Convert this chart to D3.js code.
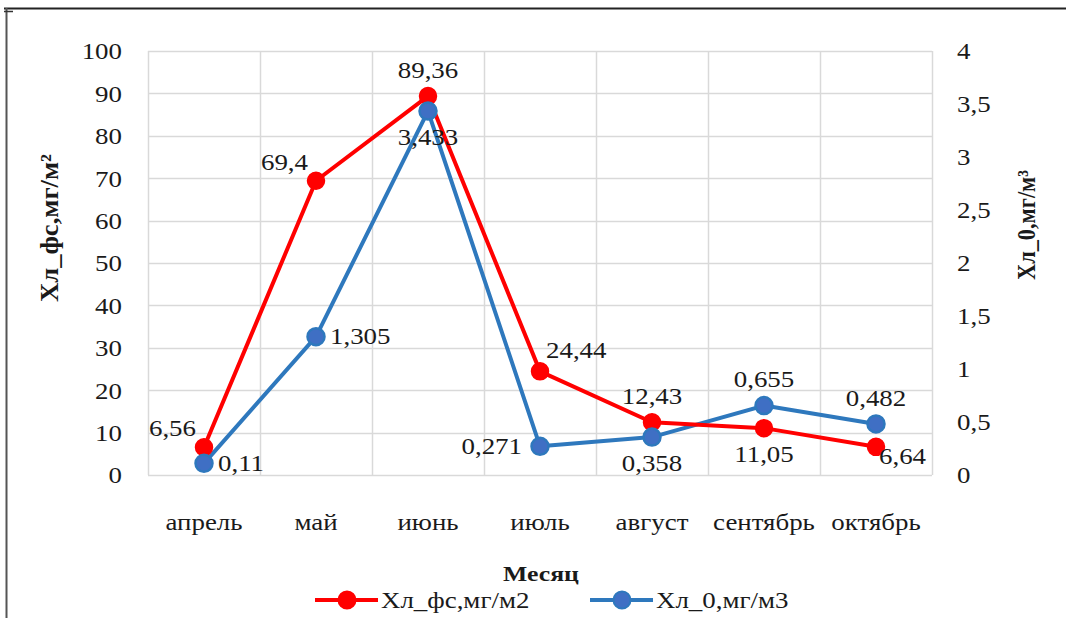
<!DOCTYPE html>
<html>
<head>
<meta charset="utf-8">
<script src="https://cdn.jsdelivr.net/npm/d3@7"></script>
<style>
  html, body { margin: 0; padding: 0; background: #fff; }
  svg { display: block; }
</style>
</head>
<body>
<svg id="chart" width="1066" height="618"></svg>
<script>
// Monthly chlorophyll values
const months = ["апрель", "май", "июнь", "июль", "август", "сентябрь", "октябрь"];
const chlPhs = [6.56, 69.4, 89.36, 24.44, 12.43, 11.05, 6.64];       // Хл_фс, мг/м2
const chl0 = [0.11, 1.305, 3.433, 0.271, 0.358, 0.655, 0.482];       // Хл_0, мг/м3
const leftTicks = [0, 10, 20, 30, 40, 50, 60, 70, 80, 90, 100];
const rightTicks = [0, 0.5, 1, 1.5, 2, 2.5, 3, 3.5, 4];
// where each data label sits relative to its marker
const chlPhsLabelPos = ["aboveLeft", "aboveLeft", "above", "aboveRight", "above", "below", "belowRight"];
const chl0LabelPos = ["right", "right", "below", "left", "below", "above", "above"];

const FONT = "'Liberation Serif', 'Times New Roman', Times, serif";
const FS = 23;      // base font size
const SX = 1.17;    // horizontal stretch of lettering
const INK = "#1a1a1a";
const RED = "#ff0000";
const BLUE_LINE = "#2e78bd";
const BLUE_FILL = "#3f6fc4";

const svg = d3.select("#chart");
const fmt = v => String(v).replace(".", ",");

const margin = { left: 148, right: 1066 - 932, top: 51, bottom: 618 - 475 };
const W = 1066 - margin.left - margin.right;
const H = 618 - margin.top - margin.bottom;

const x = d3.scaleBand().domain(months).range([margin.left, margin.left + W]);
const yL = d3.scaleLinear().domain([0, 100]).range([margin.top + H, margin.top]);
const yR = d3.scaleLinear().domain([0, 4]).range([margin.top + H, margin.top]);
const cx = m => x(m) + x.bandwidth() / 2;

function styleText(sel, size, bold) {
  sel.attr("font-family", FONT)
    .attr("font-size", size + "px")
    .attr("font-weight", bold ? "bold" : "normal")
    .attr("fill", INK);
  return sel;
}

// page frame
svg.append("line").attr("x1", 4).attr("x2", 1066).attr("y1", 8.5).attr("y2", 8.5)
  .attr("stroke", "#222").attr("stroke-width", 2);
svg.append("line").attr("x1", 6.5).attr("x2", 6.5).attr("y1", 8).attr("y2", 618)
  .attr("stroke", "#555").attr("stroke-width", 2);
svg.append("line").attr("x1", 4).attr("x2", 13).attr("y1", 11.5).attr("y2", 11.5)
  .attr("stroke", "#333").attr("stroke-width", 1.5);

// stretched horizontal text helper
function htext(g, tx, ty, str, anchor, opts = {}) {
  return styleText(g.append("text"), opts.size || FS, opts.bold)
    .attr("transform", `translate(${tx},${ty}) scale(${SX},1)`)
    .attr("text-anchor", anchor)
    .attr("dominant-baseline", "central")
    .text(str);
}

// horizontal gridlines
const grid = svg.append("g");
grid.selectAll("line.h").data(leftTicks).join("line")
  .attr("x1", margin.left).attr("x2", margin.left + W)
  .attr("y1", d => Math.round(yL(d)) + 0.5).attr("y2", d => Math.round(yL(d)) + 0.5)
  .attr("stroke", "#d9d9d9").attr("stroke-width", 1.5);
// vertical gridlines at category boundaries
const bounds = months.map(m => x(m)).concat([margin.left + W]);
grid.selectAll("line.v").data(bounds).join("line")
  .attr("x1", d => Math.round(d) + 0.5).attr("x2", d => Math.round(d) + 0.5)
  .attr("y1", margin.top).attr("y2", margin.top + H)
  .attr("stroke", "#d9d9d9").attr("stroke-width", 1.5);

function tidyAxis(g, anchor) {
  g.attr("font-family", null).attr("font-size", null);
  g.select(".domain").remove();
  styleText(g.selectAll(".tick text"), FS, false)
    .attr("x", 0).attr("y", 0).attr("dy", null)
    .attr("dominant-baseline", "central")
    .attr("text-anchor", anchor)
    .attr("transform", `scale(${SX},1)`);
}

// left axis
const axL = svg.append("g")
  .attr("transform", `translate(${margin.left - 26},0)`)
  .call(d3.axisLeft(yL).tickValues(leftTicks).tickSize(0).tickPadding(0).tickFormat(fmt));
tidyAxis(axL, "end");

// right axis
const axR = svg.append("g")
  .attr("transform", `translate(${margin.left + W + 25},0)`)
  .call(d3.axisRight(yR).tickValues(rightTicks).tickSize(0).tickPadding(0).tickFormat(fmt));
tidyAxis(axR, "start");

// category axis
const axB = svg.append("g")
  .attr("transform", `translate(0,${margin.top + H + 47})`)
  .call(d3.axisBottom(x).tickSize(0).tickPadding(0));
tidyAxis(axB, "middle");

// axis titles
styleText(svg.append("text"), 22, true)
  .attr("transform", `translate(49,228) rotate(-90) scale(1,${SX})`)
  .attr("text-anchor", "middle").attr("dominant-baseline", "central")
  .attr("textLength", 148).attr("lengthAdjust", "spacingAndGlyphs")
  .text("Хл_фс,мг/м²");
styleText(svg.append("text"), 22, true)
  .attr("transform", `translate(1026,225) rotate(-90) scale(1,${SX})`)
  .attr("text-anchor", "middle").attr("dominant-baseline", "central")
  .attr("textLength", 110).attr("lengthAdjust", "spacingAndGlyphs")
  .text("Хл_0,мг/м³");
htext(svg, 541, 574, "Месяц", "middle", { bold: true, size: 22 });

// series
const lineL = d3.line().x((d, i) => cx(months[i])).y(d => yL(d));
const lineR = d3.line().x((d, i) => cx(months[i])).y(d => yR(d));

svg.append("path").datum(chl0).attr("d", lineR)
  .attr("fill", "none").attr("stroke", BLUE_LINE).attr("stroke-width", 4).attr("stroke-linejoin", "round");
svg.append("path").datum(chlPhs).attr("d", lineL)
  .attr("fill", "none").attr("stroke", RED).attr("stroke-width", 4).attr("stroke-linejoin", "round");

svg.append("g").selectAll("circle").data(chlPhs).join("circle")
  .attr("cx", (d, i) => cx(months[i])).attr("cy", d => yL(d)).attr("r", 8.5)
  .attr("fill", RED).attr("stroke", RED).attr("stroke-width", 1.5);
svg.append("g").selectAll("circle").data(chl0).join("circle")
  .attr("cx", (d, i) => cx(months[i])).attr("cy", d => yR(d)).attr("r", 8.5)
  .attr("fill", BLUE_FILL).attr("stroke", BLUE_LINE).attr("stroke-width", 2.5);

// data labels
const offsets = {
  above: [0, -26, "middle"],
  below: [0, 26, "middle"],
  left: [-18, 0, "end"],
  right: [14, 0, "start"],
  aboveLeft: [-8, -19, "end"],
  aboveRight: [6, -21, "start"],
  belowRight: [3, 9, "start"]
};
const labels = svg.append("g");
function drawLabels(vals, pos, yScale) {
  vals.forEach((v, i) => {
    const [dx, dy, anchor] = offsets[pos[i]];
    htext(labels, cx(months[i]) + dx, yScale(v) + dy, fmt(v), anchor);
  });
}
drawLabels(chl0, chl0LabelPos, yR);
drawLabels(chlPhs, chlPhsLabelPos, yL);

// legend
const legend = svg.append("g");
const legendItems = [
  { name: "Хл_фс,мг/м2", x0: 315, color: RED, fill: RED },
  { name: "Хл_0,мг/м3", x0: 590, color: BLUE_LINE, fill: BLUE_FILL }
];
legendItems.forEach(it => {
  const ly = 600;
  legend.append("line").attr("x1", it.x0).attr("x2", it.x0 + 63).attr("y1", ly).attr("y2", ly)
    .attr("stroke", it.color).attr("stroke-width", 4);
  legend.append("circle").attr("cx", it.x0 + 32).attr("cy", ly).attr("r", 8.5)
    .attr("fill", it.fill).attr("stroke", it.color).attr("stroke-width", 2);
  htext(legend, it.x0 + 66, ly, it.name, "start");
});
</script>
</body>
</html>
